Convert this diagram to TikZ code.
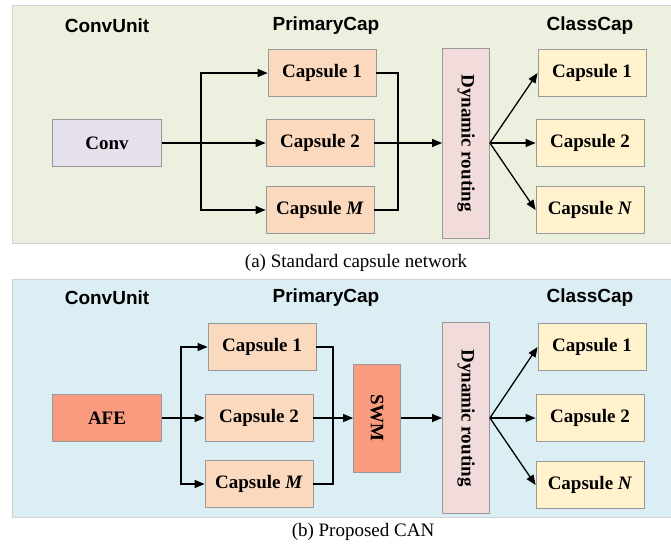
\documentclass[tikz,border=0pt]{standalone}
\usepackage{fontspec}
\setmainfont{Liberation Serif}
\setsansfont{Liberation Sans}
\usetikzlibrary{arrows.meta}
\definecolor{panela}{HTML}{EBF1DE}
\definecolor{panelb}{HTML}{DBEEF3}
\definecolor{convc}{HTML}{E6E0EC}
\definecolor{primc}{HTML}{FBD9BE}
\definecolor{classc}{HTML}{FFF2CC}
\definecolor{routc}{HTML}{F2DCDB}
\definecolor{hotc}{HTML}{FA9A7E}

\begin{document}
\begin{tikzpicture}[x=1pt,y=-1pt,>={Triangle[length=10pt,width=8pt]},
  line width=1.3pt,font=\fontsize{19}{22}\selectfont,
  box/.style={draw=gray!80,line width=0.8pt,minimum width=108pt,minimum height=47pt,
    inner sep=0pt,font=\fontsize{19}{22}\selectfont\bfseries},
  vbox/.style={box,rotate=-90,minimum height=47pt},
  head/.style={font=\fontsize{19}{22}\selectfont\sffamily\bfseries},
  panel/.style={draw=gray!35,line width=0.8pt}]

  \useasboundingbox (0,0) rectangle (671,546);

  %% (a) standard capsule network
  \fill[panela,panel] (12,5) rectangle (671,243);
  \node[head] (h1) at (107,26) {ConvUnit};
  \node[head] (h2) at (326,26) {PrimaryCap};
  \node[head] (h3) at (590,26) {ClassCap};

  \node[box,fill=convc,minimum width=109pt] (conv) at (107,143) {Conv};
  \node[box,fill=primc] (p1) at (322,73) {Capsule 1};
  \node[box,fill=primc] (p2) at (320,143) {Capsule 2};
  \node[box,fill=primc] (pm) at (320,210) {Capsule \textit{M}};
  \node[vbox,fill=routc,minimum width=190pt] (dr) at (466,143) {Dynamic routing};
  \node[box,fill=classc] (k1) at (592,73) {Capsule 1};
  \node[box,fill=classc] (k2) at (590,143) {Capsule 2};
  \node[box,fill=classc] (kn) at (590,210) {Capsule \textit{N}};
  \coordinate (b) at (201,143);
  \coordinate (m) at (398,143);

  \draw[->] (conv) -- (p2);
  \draw[->] (b) |- (p1);
  \draw[->] (b) |- (pm);
  \draw (p1) -| (m);
  \draw (pm) -| (m);
  \draw[->] (p2) -- (dr);
  \draw[->] (dr.north) -- (k1.west);
  \draw[->] (dr.north) -- (k2.west);
  \draw[->] (dr.north) -- (kn.west);

  \node (ca) at (356,263) {(a) Standard capsule network};

  %% (b) proposed CAN
  \fill[panelb,panel] (12,279) rectangle (671,517);
  \node[head] (g1) at (107,298) {ConvUnit};
  \node[head] (g2) at (326,298) {PrimaryCap};
  \node[head] (g3) at (590,298) {ClassCap};

  \node[box,fill=hotc,minimum width=109pt] (afe) at (107,418) {AFE};
  \node[box,fill=primc] (q1) at (262,347) {Capsule 1};
  \node[box,fill=primc] (q2) at (259,418) {Capsule 2};
  \node[box,fill=primc] (qm) at (259,484) {Capsule \textit{M}};
  \node[vbox,fill=hotc,minimum width=108pt] (swm) at (377,418) {SWM};
  \node[vbox,fill=routc,minimum width=191pt] (dr2) at (466,418) {Dynamic routing};
  \node[box,fill=classc] (l1) at (592,347) {Capsule 1};
  \node[box,fill=classc] (l2) at (590,418) {Capsule 2};
  \node[box,fill=classc] (ln) at (590,485) {Capsule \textit{N}};
  \coordinate (b2) at (181,418);
  \coordinate (m2) at (333,418);

  \draw[->] (afe) -- (q2);
  \draw[->] (b2) |- (q1);
  \draw[->] (b2) |- (qm);
  \draw (q1) -| (m2);
  \draw (qm) -| (m2);
  \draw[->] (q2) -- (swm);
  \draw[->] (swm) -- (dr2);
  \draw[->] (dr2.north) -- (l1.west);
  \draw[->] (dr2.north) -- (l2.west);
  \draw[->] (dr2.north) -- (ln.west);

  \node (cb) at (363,532) {(b) Proposed CAN};
\end{tikzpicture}
\end{document}
